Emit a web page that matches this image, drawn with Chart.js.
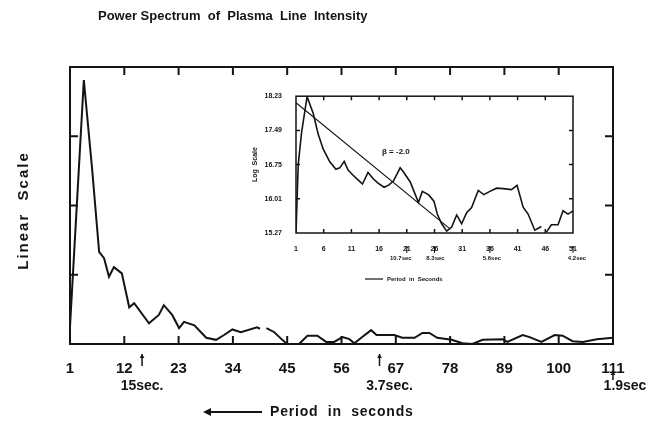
<!DOCTYPE html>
<html>
<head>
<meta charset="utf-8">
<script src="https://cdn.jsdelivr.net/npm/chart.js@4.4.1/dist/chart.umd.min.js"></script>
<style>
  html, body { margin: 0; padding: 0; background: #fff; }
  #wrap { position: relative; width: 653px; height: 428px; }
  #main { position: absolute; left: 0; top: 0; }
  #inset { position: absolute; left: 240px; top: 86px; }
</style>
</head>
<body>
<div id="wrap">
  <canvas id="main" width="653" height="428"></canvas>
  <canvas id="inset" width="350" height="205"></canvas>
</div>
<script>
// main spectrum (linear scale), harmonic number vs power
const harmonicX = [1, 3.8, 5.5, 6.9, 7.9, 8.9, 9.9, 11.5, 13, 14, 17, 19, 20, 21.7, 23.1, 24.1, 26.2, 28.6, 30.6, 32.2,
  33.9, 35.6, 38.9, 39.5, 40.1, 40.8, 42.4, 44, 45, 47.4, 49.1, 51.1, 52.9, 54.5, 56.2, 57.6, 58.6, 60.2, 62, 63.1, 66.7, 68.3,
  70.8, 72.4, 73.8, 75.4, 78.3, 80.5, 82.5, 84.6, 88.6, 89.6, 92.7, 94.1, 96.5, 99.2, 100.8, 102.8, 104.9, 107.7, 111];
const powerLinear = [0.25, 3.81, 2.51, 1.33, 1.24, 0.97, 1.11, 1.02, 0.53, 0.59, 0.30, 0.42, 0.56, 0.42, 0.23, 0.32, 0.27, 0.09, 0.06, 0.13,
  0.21, 0.17, 0.24, 0.22, null, 0.23, 0.17, 0.06, 0.0, 0.0, 0.12, 0.12, 0.03, 0.03, 0.10, 0.07, 0.01, 0.10, 0.20, 0.13, 0.13, 0.09,
  0.09, 0.16, 0.16, 0.09, 0.06, 0.01, 0.0, 0.06, 0.07, 0.03, 0.13, 0.10, 0.03, 0.13, 0.12, 0.04, 0.03, 0.07, 0.09];
const mainTicks = [1, 12, 23, 34, 45, 56, 67, 78, 89, 100, 111];
const mainYTicks = [1, 2, 3];
const periodMarks = [
  { at: 15.6, text: '15sec.', dx: 0, low: false },
  { at: 63.7, text: '3.7sec.', dx: 10, low: false },
  { at: 111, text: '1.9sec', dx: 12, low: true }
];

// inset (log scale)
const insetX = [1, 1.4, 2, 3, 4.1, 5, 5.9, 7.1, 8.2, 8.9, 9.7, 10.4, 11.3, 12.2, 13, 14, 14.9, 15.8, 16.9, 17.8,
  18.6, 19.8, 20.4, 21.6, 22.3, 23.1, 23.8, 24.9, 25.9, 26.5, 27.3, 28.2, 29.1, 30, 30.9, 31.8, 32.7, 33.9, 34.9, 36,
  37.2, 38.4, 39.9, 40.9, 42, 42.9, 44.1, 45.3, 45.7, 46.2, 47.1, 48.3, 49.2, 50.1, 51];
const powerLog = [15.27, 16.75, 17.44, 18.22, 17.86, 17.41, 17.09, 16.81, 16.65, 16.68, 16.82, 16.63, 16.52, 16.42, 16.33, 16.58, 16.45, 16.35, 16.26, 16.31,
  16.40, 16.68, 16.59, 16.38, 16.17, 15.93, 16.17, 16.10, 15.96, 15.68, 15.47, 15.31, 15.40, 15.66, 15.47, 15.71, 15.82, 16.19, 16.10, 16.17,
  16.24, 16.23, 16.21, 16.30, 15.83, 15.68, 15.33, 15.41, null, 15.29, 15.45, 15.45, 15.75, 15.68, 15.75];
const fitX = [1, 28.8];
const fitY = [18.09, 15.36];
const insetTicks = [1, 6, 11, 16, 21, 26, 31, 36, 41, 46, 51];
const insetYTicks = [15.27, 16.01, 16.75, 17.49, 18.23];
const insetMarks = [
  { at: 21, text: '10.7sec', dx: -6 },
  { at: 26, text: '8.3sec', dx: 1 },
  { at: 36, text: '5.6sec', dx: 2 },
  { at: 51, text: '4.2sec', dx: 4 }
];

const ink = '#141414';
const font = 'Liberation Sans';

function arrowUp(ctx, x, y1, y2, head) {
  ctx.beginPath();
  ctx.moveTo(x, y2);
  ctx.lineTo(x, y1);
  ctx.stroke();
  ctx.beginPath();
  ctx.moveTo(x, y1);
  ctx.lineTo(x - head * 0.6, y1 + head);
  ctx.lineTo(x + head * 0.6, y1 + head);
  ctx.closePath();
  ctx.fill();
}

function frameAndTicks(chart, xTicks, yTicks, len, width) {
  const { ctx, chartArea: a, scales: { x, y } } = chart;
  ctx.save();
  ctx.strokeStyle = ink;
  ctx.lineWidth = width;
  ctx.strokeRect(a.left, a.top, a.right - a.left, a.bottom - a.top);
  ctx.beginPath();
  xTicks.forEach(v => {
    const px = x.getPixelForValue(v);
    ctx.moveTo(px, a.bottom); ctx.lineTo(px, a.bottom - len);
    ctx.moveTo(px, a.top); ctx.lineTo(px, a.top + len);
  });
  yTicks.forEach(v => {
    const py = y.getPixelForValue(v);
    ctx.moveTo(a.left, py); ctx.lineTo(a.left + len, py);
    ctx.moveTo(a.right, py); ctx.lineTo(a.right - len, py);
  });
  ctx.stroke();
  ctx.restore();
}

const mainDecor = {
  id: 'mainDecor',
  afterDatasetsDraw(chart) {
    const { ctx, chartArea: a, scales: { x } } = chart;
    frameAndTicks(chart, mainTicks.slice(1, -1), mainYTicks, 8, 2);
    ctx.save();
    ctx.fillStyle = ink;
    ctx.strokeStyle = ink;
    ctx.lineWidth = 1.5;
    ctx.textBaseline = 'middle';
    ctx.textAlign = 'left';
    ctx.font = 'bold 13px "' + font + '"';
    ctx.fillText('Power Spectrum  of  Plasma  Line  Intensity', 98, 16);

    ctx.textAlign = 'center';
    ctx.font = 'bold 14px "' + font + '"';
    periodMarks.forEach(m => {
      const px = x.getPixelForValue(m.at);
      if (m.low) arrowUp(ctx, px, 371, 380, 4);
      else arrowUp(ctx, px, 354, 366, 4);
      ctx.fillText(m.text, px + m.dx, 386);
    });

    // x axis caption with left arrow
    ctx.lineWidth = 2;
    ctx.beginPath();
    ctx.moveTo(205, 412);
    ctx.lineTo(262, 412);
    ctx.stroke();
    ctx.beginPath();
    ctx.moveTo(203, 412);
    ctx.lineTo(211, 408);
    ctx.lineTo(211, 416);
    ctx.closePath();
    ctx.fill();
    ctx.textAlign = 'left';
    ctx.font = 'bold 14px "' + font + '"';
    ctx.letterSpacing = '0.8px';
    ctx.fillText('Period  in  seconds', 270, 412);

    // y axis caption, letter-spaced like the lettering guide
    ctx.translate(24, (a.top + a.bottom) / 2 + 5);
    ctx.rotate(-Math.PI / 2);
    ctx.textAlign = 'center';
    ctx.font = 'bold 15px "' + font + '"';
    ctx.letterSpacing = '2px';
    ctx.fillText('Linear  Scale', 0, 0);
    ctx.restore();
  }
};

const insetDecor = {
  id: 'insetDecor',
  afterDatasetsDraw(chart) {
    const { ctx, scales: { x } } = chart;
    frameAndTicks(chart, insetTicks.slice(1, -1), insetYTicks.slice(1, -1), 4, 1.5);
    ctx.save();
    ctx.fillStyle = ink;
    ctx.strokeStyle = ink;
    ctx.lineWidth = 1;
    ctx.textBaseline = 'middle';
    ctx.textAlign = 'center';
    ctx.font = 'bold 6px "' + font + '"';
    insetMarks.forEach(m => {
      const px = x.getPixelForValue(m.at);
      arrowUp(ctx, px, 160, 167, 2);
      ctx.fillText(m.text, px + m.dx, 172);
    });
    // legend-like caption
    ctx.lineWidth = 1.2;
    ctx.beginPath();
    ctx.moveTo(125, 193);
    ctx.lineTo(143, 193);
    ctx.stroke();
    ctx.textAlign = 'left';
    ctx.fillText('Period  in  Seconds', 147, 193);
    // slope annotation
    ctx.font = 'bold 8px "' + font + '"';
    ctx.fillText('\u03b2 = -2.0', 142, 66);
    ctx.restore();
  }
};

new Chart(document.getElementById('main'), {
  type: 'line',
  data: {
    datasets: [{
      data: harmonicX.map((v, i) => ({ x: v, y: powerLinear[i] })),
      borderColor: ink,
      borderWidth: 2,
      pointRadius: 0,
      tension: 0
    }]
  },
  options: {
    responsive: false,
    animation: false,
    devicePixelRatio: 1,
    layout: { padding: { top: 67, right: 40, left: 0, bottom: 0 } },
    plugins: { legend: { display: false }, tooltip: { enabled: false } },
    scales: {
      x: {
        type: 'linear',
        min: 1,
        max: 111,
        grid: { display: false },
        border: { display: false },
        afterBuildTicks: s => { s.ticks = mainTicks.map(v => ({ value: v })); },
        afterFit: s => { s.height = 84; },
        ticks: {
          autoSkip: false,
          maxRotation: 0,
          padding: 8,
          color: ink,
          font: { family: font, size: 15, weight: 'bold' },
          callback: v => String(v)
        }
      },
      y: {
        min: 0,
        max: 4,
        grid: { display: false },
        border: { display: false },
        afterFit: s => { s.width = 70; },
        ticks: { display: false }
      }
    }
  },
  plugins: [mainDecor]
});

new Chart(document.getElementById('inset'), {
  type: 'line',
  data: {
    datasets: [{
      data: insetX.map((v, i) => ({ x: v, y: powerLog[i] })),
      borderColor: ink,
      borderWidth: 1.6,
      pointRadius: 0,
      tension: 0,
      spanGaps: false
    }, {
      data: fitX.map((v, i) => ({ x: v, y: fitY[i] })),
      borderColor: ink,
      borderWidth: 1.2,
      pointRadius: 0,
      tension: 0
    }]
  },
  options: {
    responsive: false,
    animation: false,
    devicePixelRatio: 1,
    layout: { padding: { top: 7, right: 17, left: 0, bottom: 0 } },
    plugins: { legend: { display: false }, tooltip: { enabled: false } },
    scales: {
      x: {
        type: 'linear',
        min: 1,
        max: 51,
        grid: { display: false },
        border: { display: false },
        afterBuildTicks: s => { s.ticks = insetTicks.map(v => ({ value: v })); },
        afterFit: s => { s.height = 58; },
        ticks: {
          autoSkip: false,
          maxRotation: 0,
          padding: 4,
          color: ink,
          font: { family: font, size: 7, weight: 'bold' },
          callback: v => String(v)
        }
      },
      y: {
        min: 15.27,
        max: 18.23,
        grid: { display: false },
        border: { display: false },
        afterBuildTicks: s => { s.ticks = insetYTicks.map(v => ({ value: v })); },
        afterFit: s => { s.width = 56; },
        ticks: {
          padding: 6,
          color: ink,
          font: { family: font, size: 7, weight: 'bold' },
          callback: v => v.toFixed(2)
        },
        title: {
          display: true,
          text: 'Log  Scale',
          color: ink,
          padding: { top: 11, bottom: 0 },
          font: { family: font, size: 7, weight: 'bold' }
        }
      }
    }
  },
  plugins: [insetDecor]
});
</script>
</body>
</html>
